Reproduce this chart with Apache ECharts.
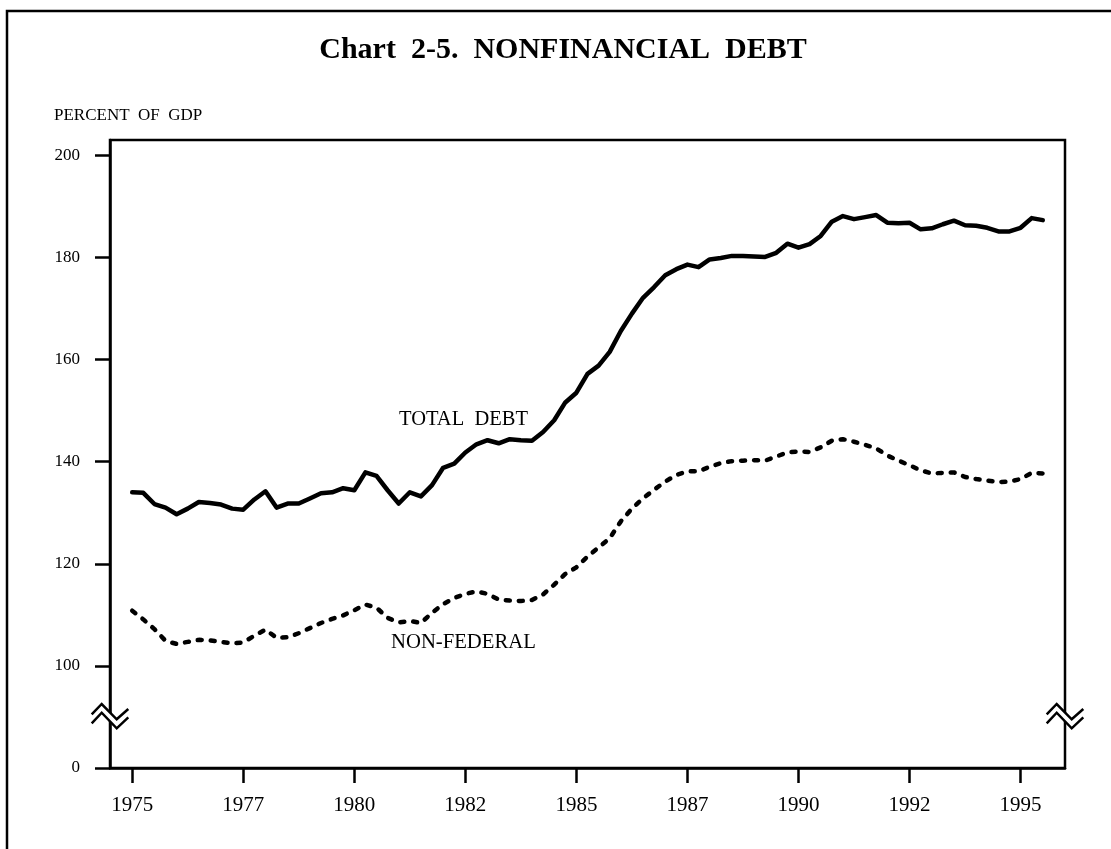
<!DOCTYPE html>
<html>
<head>
<meta charset="utf-8">
<script src="https://cdn.jsdelivr.net/npm/echarts@6/dist/echarts.min.js"></script>
<style>
  html, body { margin: 0; padding: 0; background: #fff; }
  #chart { width: 1111px; height: 849px; }
</style>
</head>
<body>
<div id="chart"></div>
<script>
// ---- data (quarterly, 1975:I - 1995:III), percent of GDP ----
var startYear = 1975;
var totalDebt = [
  134.0, 133.9, 131.7, 131.0, 129.7, 130.8, 132.1, 131.9, 131.6, 130.8,
  130.6, 132.6, 134.2, 131.0, 131.8, 131.8, 132.8, 133.8, 134.0, 134.8,
  134.4, 137.9, 137.2, 134.4, 131.8, 134.0, 133.2, 135.4, 138.8, 139.6,
  141.8, 143.4, 144.2, 143.6, 144.4, 144.2, 144.1, 145.8, 148.1, 151.6,
  153.5, 157.2, 158.8, 161.5, 165.6, 169.0, 172.1, 174.2, 176.5, 177.7,
  178.6, 178.1, 179.6, 179.9, 180.3, 180.3, 180.2, 180.1, 180.9, 182.7,
  181.9, 182.6, 184.2, 187.0, 188.1, 187.5, 187.9, 188.3, 186.8, 186.7,
  186.8, 185.5, 185.7, 186.5, 187.2, 186.3, 186.2, 185.8, 185.1, 185.1,
  185.8, 187.7, 187.3
];
var nonFederal = [
  110.8, 109.1, 107.2, 104.9, 104.3, 104.7, 105.1, 105.0, 104.7, 104.4,
  104.6, 105.9, 107.1, 105.5, 105.6, 106.4, 107.4, 108.4, 109.2, 109.9,
  110.9, 112.0, 111.4, 109.4, 108.5, 108.8, 108.4, 110.4, 112.1, 113.3,
  114.1, 114.6, 114.1, 113.0, 112.8, 112.7, 112.9, 114.0, 115.9, 118.0,
  119.3, 121.4, 123.2, 125.0, 128.3, 130.8, 132.8, 134.5, 136.1, 137.4,
  138.1, 138.1, 139.0, 139.7, 140.1, 140.2, 140.3, 140.2, 141.0, 141.8,
  142.0, 141.9, 142.8, 144.1, 144.4, 143.9, 143.3, 142.6, 141.2, 140.2,
  139.3, 138.3, 137.7, 137.8, 137.9, 137.0, 136.6, 136.3, 136.0, 136.1,
  136.6, 137.8, 137.7
];
var xTickValues = [1975, 1977.5, 1980, 1982.5, 1985, 1987.5, 1990, 1992.5, 1995];
var yTickValues = [80, 100, 120, 140, 160, 180, 200];
var yTickLabels = ['0', '100', '120', '140', '160', '180', '200'];
var titleText = 'Chart  2-5.  NONFINANCIAL  DEBT';
var unitText = 'PERCENT  OF  GDP';
var seriesNames = ['TOTAL  DEBT', 'NON-FEDERAL'];

function toPairs(arr) {
  return arr.map(function (v, i) { return [startYear + i / 4, v]; });
}

var FONT = "'Liberation Serif', 'Times New Roman', serif";
var chart = echarts.init(document.getElementById('chart'), null, { renderer: 'canvas' });

var GL = 110, GT = 140, GR = 1065, GB = 768;

function breakShape(ox) {
  // zigzag double-line axis break, ox = axis x position
  var top = [[-18.3, 714.3], [-8.3, 704], [6.7, 719.3], [18.3, 709]];
  var bot = [[-18.3, 723.3], [-8.3, 712.7], [6.7, 728.3], [18.3, 717.3]];
  var sh = function (pts) { return pts.map(function (p) { return [p[0] + ox, p[1]]; }); };
  var poly = sh(top).concat(sh(bot).reverse());
  return [
    { type: 'polygon', z: 100, shape: { points: poly }, style: { fill: '#fff', stroke: null } },
    { type: 'polyline', z: 101, shape: { points: sh(top) }, style: { stroke: '#000', lineWidth: 2.5, fill: null } },
    { type: 'polyline', z: 101, shape: { points: sh(bot) }, style: { stroke: '#000', lineWidth: 2.5, fill: null } }
  ];
}

var graphics = [
  { type: 'polyline', z: 100, shape: { points: [[7, 849], [7, 11], [1111, 11]] },
    style: { stroke: '#000', lineWidth: 2.5, fill: null } },
  { type: 'text', z: 100, x: 563, y: 50,
    style: { text: titleText, font: 'bold 30px ' + FONT, fill: '#000', textAlign: 'center', textVerticalAlign: 'middle' } },
  { type: 'text', z: 100, x: 54, y: 116,
    style: { text: unitText, font: '17px ' + FONT, fill: '#000', textAlign: 'left', textVerticalAlign: 'middle' } },
  { type: 'text', z: 100, x: 399, y: 420,
    style: { text: seriesNames[0], font: '20.5px ' + FONT, fill: '#000', textAlign: 'left', textVerticalAlign: 'middle' } },
  { type: 'text', z: 100, x: 391, y: 643,
    style: { text: seriesNames[1], font: '20.7px ' + FONT, fill: '#000', textAlign: 'left', textVerticalAlign: 'middle' } }
].concat(breakShape(GL)).concat(breakShape(GR));

var option = {
  animation: false,
  backgroundColor: '#fff',
  grid: {
    left: GL, top: GT, right: 1111 - GR, bottom: 849 - GB,
    show: true, borderColor: '#000', borderWidth: 2.5, backgroundColor: 'transparent'
  },
  xAxis: {
    type: 'value', min: 1974.5, max: 1996,
    axisLine: { show: true, onZero: false, lineStyle: { color: '#000', width: 2.5 } },
    axisTick: { show: true, inside: false, length: 15, customValues: xTickValues, lineStyle: { color: '#000', width: 2.5 } },
    axisLabel: {
      show: true, customValues: xTickValues, margin: 27,
      fontFamily: FONT, fontSize: 21, color: '#000',
      formatter: function (v) { return String(Math.floor(v)); }
    },
    splitLine: { show: false }
  },
  yAxis: {
    type: 'value', min: 80, max: 203,
    axisLine: { show: true, lineStyle: { color: '#000', width: 2.5 } },
    axisTick: { show: true, inside: false, length: 15, customValues: yTickValues, lineStyle: { color: '#000', width: 2.5 } },
    axisLabel: {
      show: true, customValues: yTickValues, margin: 30,
      fontFamily: FONT, fontSize: 17, color: '#000',
      formatter: function (v) { var k = yTickValues.indexOf(v); return k >= 0 ? yTickLabels[k] : ''; }
    },
    splitLine: { show: false }
  },
  series: [
    {
      name: seriesNames[0], type: 'line', data: toPairs(totalDebt),
      symbol: 'none', smooth: false,
      lineStyle: { color: '#000', width: 4.5, type: 'solid', join: 'round', cap: 'round' }
    },
    {
      name: seriesNames[1], type: 'line', data: toPairs(nonFederal),
      symbol: 'none', smooth: false,
      lineStyle: { color: '#000', width: 4.5, type: [4, 9], join: 'round', cap: 'round' }
    }
  ],
  graphic: graphics
};
chart.setOption(option);
</script>
</body>
</html>
